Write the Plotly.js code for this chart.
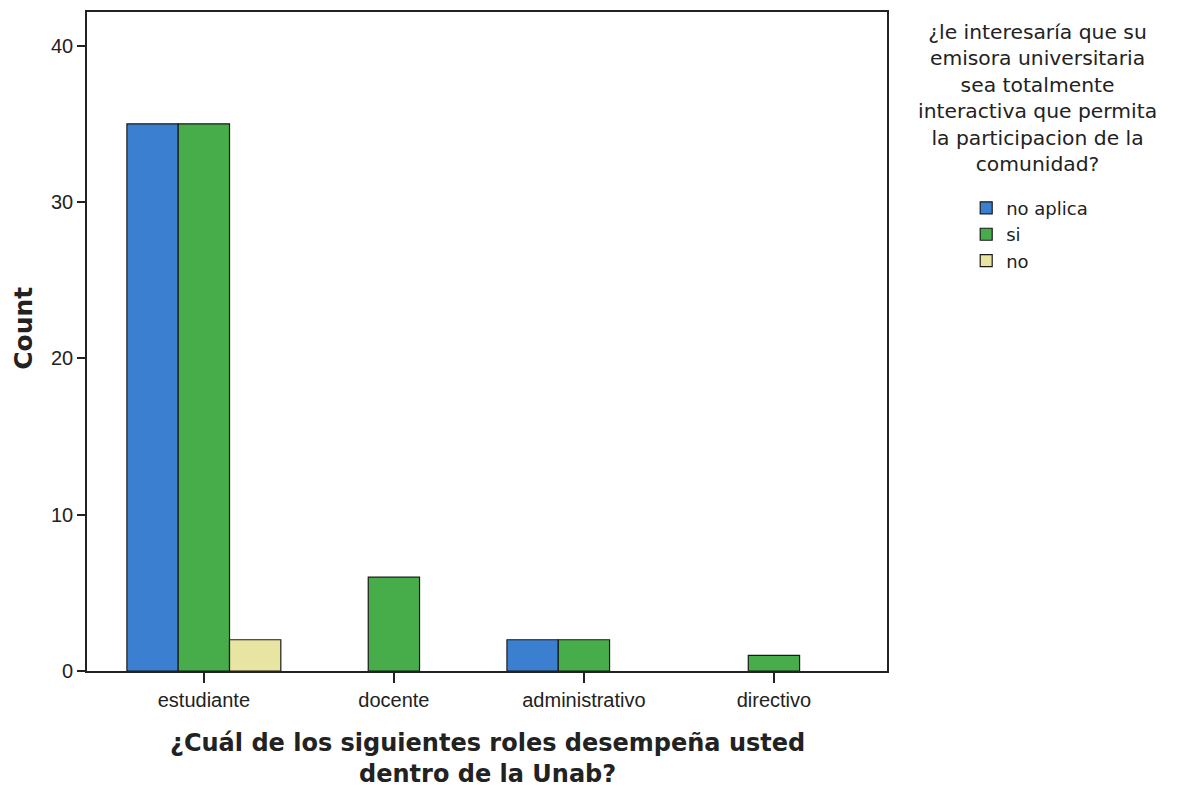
<!DOCTYPE html>
<html>
<head>
<meta charset="utf-8">
<script src="https://cdn.plot.ly/plotly-3.0.1.min.js"></script>
<style>html,body{margin:0;padding:0;background:#fff;}#chart{width:1189px;height:788px;}</style>
</head>
<body>
<div id="chart"></div>
<script>
const categories = ["estudiante", "docente", "administrativo", "directivo"];
const seriesNames = ["no aplica", "si", "no"];
const noAplica = [35, null, 2, null];
const si = [35, 6, 2, 1];
const no = [2, null, null, null];
const yTicks = [0, 10, 20, 30, 40];
const legendTitle = "¿le interesaría que su<br>emisora universitaria<br>sea totalmente<br>interactiva que permita<br>la participacion de la<br>comunidad?";
const xTitle = "¿Cuál de los siguientes roles desempeña usted<br>dentro de la Unab?";
const yTitle = "Count";

const colors = ["#3b7fd0", "#47ad4b", "#e8e4a2"];
const seriesValues = [noAplica, si, no];

const traces = seriesValues.map((vals, i) => ({
  type: "bar",
  name: seriesNames[i],
  x: categories,
  y: vals,
  marker: {color: colors[i], line: {color: "#1a1a1a", width: 1.2}},
  hoverinfo: "x+y+name"
}));

const font = "Arial, 'Liberation Sans', sans-serif";
const wideFont = "'DejaVu Sans', Verdana, sans-serif";

const annotations = [{
  text: legendTitle,
  xref: "paper", yref: "paper",
  x: 1.1875, y: 0.991, xanchor: "center", yanchor: "top",
  showarrow: false, align: "center",
  font: {family: wideFont, size: 20.3, color: "#222"}
}, {
  text: "<b>" + yTitle + "</b>",
  xref: "paper", yref: "paper",
  x: -0.079, y: 0.5205, xanchor: "center", yanchor: "middle",
  textangle: -90, showarrow: false,
  font: {family: wideFont, size: 25, color: "#222"}
}, {
  text: "<b>" + xTitle + "</b>",
  xref: "paper", yref: "paper",
  x: 0.5, y: -0.133, xanchor: "center", yanchor: "middle",
  showarrow: false, align: "center",
  font: {family: wideFont, size: 24, color: "#222"}
}];

const layout = {
  width: 1189,
  height: 788,
  paper_bgcolor: "#ffffff",
  plot_bgcolor: "#ffffff",
  margin: {l: 87, r: 302, t: 12, b: 117},
  barmode: "group",
  bargap: 0.19,
  bargroupgap: 0,
  showlegend: true,
  font: {family: font, color: "#222"},
  xaxis: {
    type: "category",
    range: [-0.615, 3.595],
    showline: true, linecolor: "#222", linewidth: 1.8, mirror: true,
    ticks: "outside", ticklen: 10, tickwidth: 1.8, tickcolor: "#222",
    tickfont: {family: font, size: 20, color: "#222"},
    showgrid: false, zeroline: false
  },
  yaxis: {
    range: [0, 42.15],
    tickvals: yTicks,
    showline: true, linecolor: "#222", linewidth: 1.8, mirror: true,
    ticks: "outside", ticklen: 8, tickwidth: 1.8, tickcolor: "#222",
    tickfont: {family: font, size: 20, color: "#222"},
    showgrid: false, zeroline: false
  },
  legend: {
    x: 1.099, xanchor: "left",
    y: 0.7304, yanchor: "top",
    font: {family: wideFont, size: 18, color: "#222"},
    tracegroupgap: 0,
    itemwidth: 30,
    bgcolor: "rgba(0,0,0,0)"
  },
  annotations: annotations
};

Plotly.newPlot("chart", traces, layout, {displayModeBar: false, staticPlot: true});
</script>
</body>
</html>
